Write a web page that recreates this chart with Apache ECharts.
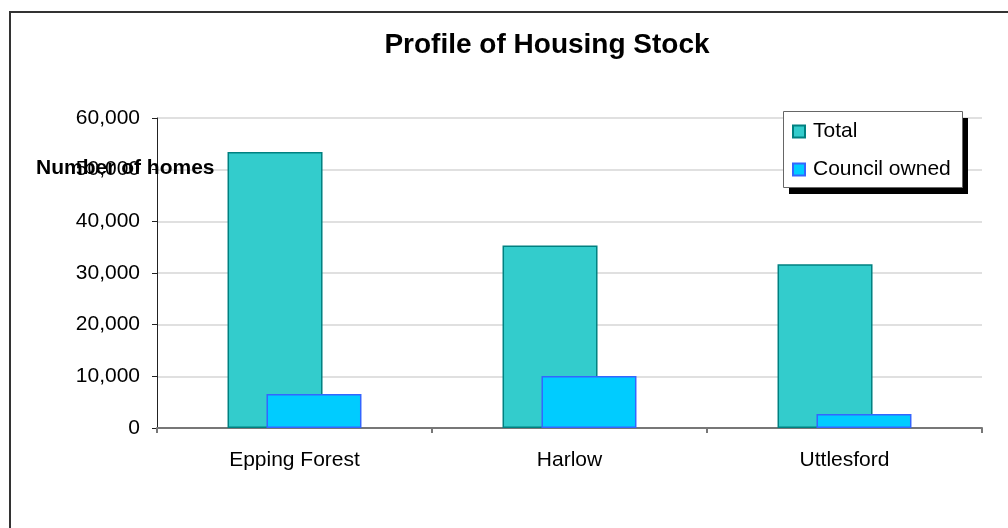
<!DOCTYPE html>
<html>
<head>
<meta charset="utf-8">
<script src="https://cdn.jsdelivr.net/npm/echarts@6/dist/echarts.min.js"></script>
<style>
html,body{margin:0;padding:0;background:#fff;}
#chart{width:1008px;height:528px;}
</style>
</head>
<body>
<div id="chart"></div>
<script>
const categories = ['Epping Forest', 'Harlow', 'Uttlesford'];
const totalValues = [53400, 35300, 31700];
const councilValues = [6600, 10050, 2700];
const seriesNames = ['Total', 'Council owned'];
const titleText = 'Profile of Housing Stock';
const yAxisTitle = 'Number of homes';

const FONT = '"Liberation Sans", Arial, sans-serif';
const chart = echarts.init(document.getElementById('chart'), null, {renderer: 'canvas'});
chart.setOption({
  animation: false,
  backgroundColor: '#fff',
  textStyle: {fontFamily: FONT},
  title: {
    text: titleText,
    left: 542,
    top: 26,
    textAlign: 'center',
    textStyle: {fontSize: 28, fontWeight: 'bold', color: '#000', fontFamily: FONT}
  },
  graphic: [
    {
      type: 'rect', silent: true, z: -1,
      shape: {x: 10, y: 12, width: 1100, height: 600},
      style: {fill: null, stroke: '#333', lineWidth: 2}
    },
    {
      type: 'rect', silent: true, z: 50,
      shape: {x: 789, y: 118, width: 179, height: 76},
      style: {fill: '#000'}
    },
    {
      type: 'rect', silent: true, z: 51,
      shape: {x: 783.5, y: 111.5, width: 179, height: 76},
      style: {fill: '#fff', stroke: '#666', lineWidth: 1}
    },
    {
      type: 'text', z: 100,
      style: {
        text: yAxisTitle, x: 36, y: 168,
        textVerticalAlign: 'middle',
        fontSize: 21, fontWeight: 'bold', fontFamily: FONT, fill: '#000'
      }
    }
  ],
  legend: {
    orient: 'vertical',
    left: 783,
    top: 112,
    z: 60,
    padding: [9, 10, 8, 9],
    itemGap: 17,
    itemWidth: 12,
    itemHeight: 12,
    icon: 'rect',
    textStyle: {fontSize: 21, color: '#000', fontFamily: FONT, padding: [0, 0, 0, 3]},
    data: seriesNames
  },
  grid: {left: 157, right: 26, top: 118, bottom: 100, containLabel: false},
  xAxis: {
    type: 'category',
    data: categories,
    axisLine: {lineStyle: {color: '#777', width: 2}},
    axisTick: {show: true, length: 5, alignWithLabel: false, lineStyle: {color: '#777', width: 2}},
    axisLabel: {fontSize: 21, color: '#000', margin: 22, fontFamily: FONT},
    splitLine: {show: false}
  },
  yAxis: {
    type: 'value',
    min: 0,
    max: 60000,
    interval: 10000,
    axisLine: {show: true, lineStyle: {color: '#222', width: 1}},
    axisTick: {show: true, length: 5, lineStyle: {color: '#222'}},
    axisLabel: {
      fontSize: 21, color: '#000', margin: 17, fontFamily: FONT,
      formatter: v => v.toLocaleString('en-US')
    },
    splitLine: {show: true, lineStyle: {color: '#D6D6D6', width: 1.5}}
  },
  series: [
    {
      name: seriesNames[0],
      type: 'bar',
      data: totalValues,
      barWidth: 95,
      barGap: '-59%',
      itemStyle: {color: '#33CCCC', borderColor: '#008080', borderWidth: 1.5}
    },
    {
      name: seriesNames[1],
      type: 'bar',
      data: councilValues,
      barWidth: 95,
      itemStyle: {color: '#00CCFF', borderColor: '#3366FF', borderWidth: 1.5}
    }
  ]
});
</script>
</body>
</html>
